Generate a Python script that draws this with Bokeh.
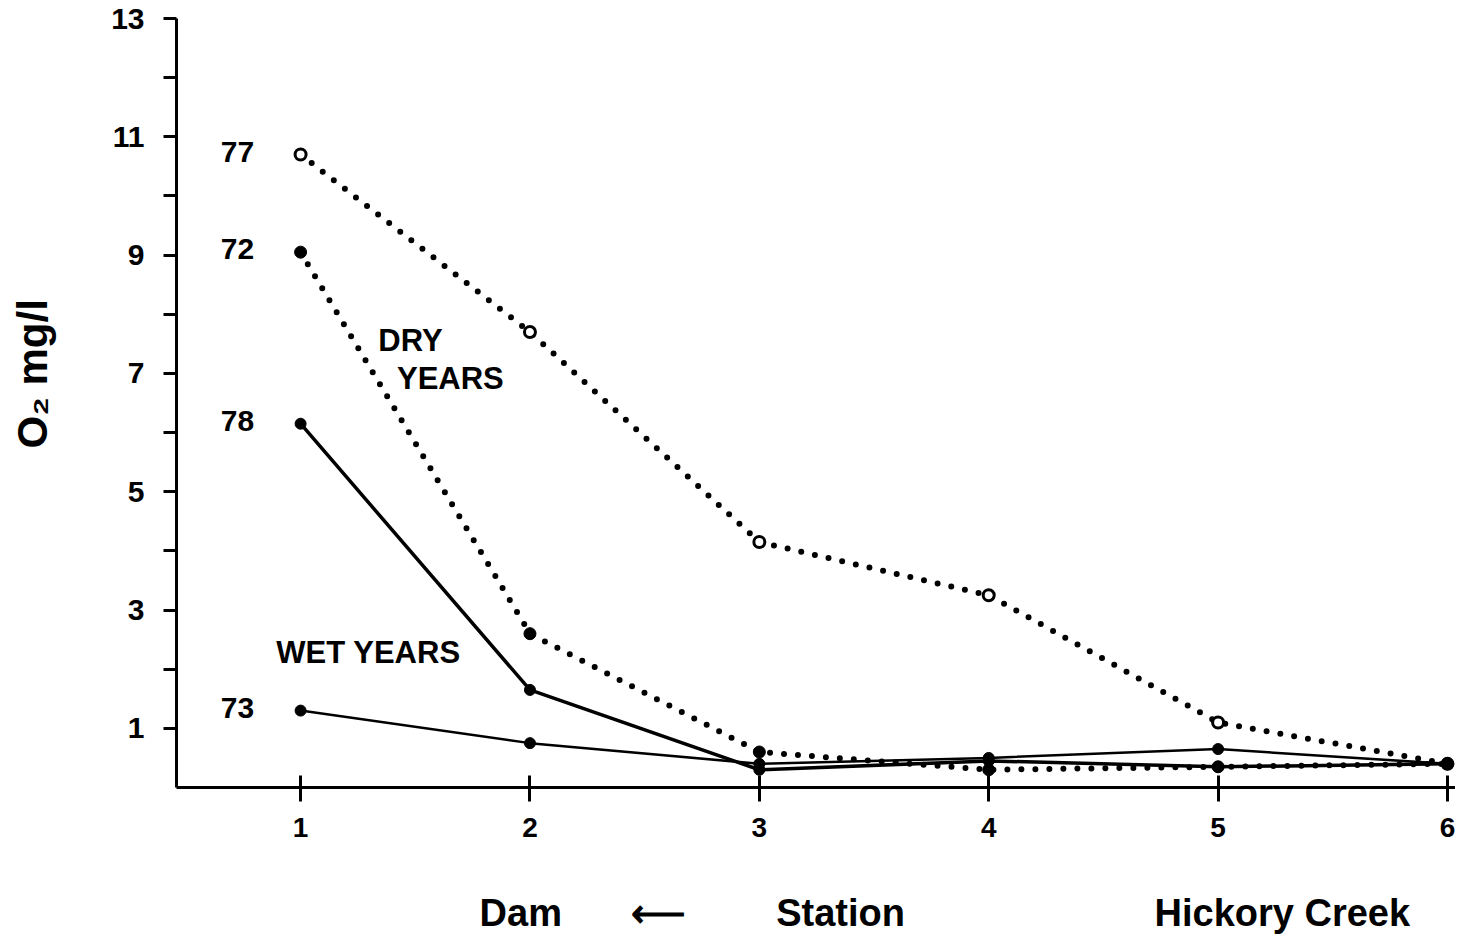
from bokeh.plotting import figure
from bokeh.models import Range1d, FixedTicker, LinearAxis
from bokeh.core.properties import value
from bokeh.embed import file_html
from bokeh.resources import INLINE

# ---- data ----
stations = [1, 2, 3, 4, 5, 6]
o2_1977 = [10.7, 7.7, 4.15, 3.25, 1.1, 0.4]   # dry year, open circles, dotted
o2_1972 = [9.05, 2.6, 0.6, 0.3, 0.35, 0.4]     # dry year, filled, dotted
o2_1978 = [6.15, 1.65, 0.3, 0.45, 0.35, 0.4]   # wet year, solid
o2_1973 = [1.3, 0.75, 0.4, 0.5, 0.65, 0.4]     # wet year, solid
year_labels = ["77", "72", "78", "73"]
y_major_ticks = [1, 3, 5, 7, 9, 11, 13]
y_minor_ticks = [2, 4, 6, 8, 10, 12]
x_ticks = [1, 2, 3, 4, 5, 6]
caption_texts = ["Dam", "\u27f5", "Station", "Hickory Creek"]
caption_pos = [1.96, 2.556, 3.354, 5.28]

FONT = "Liberation Sans"

p = figure(width=1455, height=939, output_backend="svg", toolbar_location=None,
           x_range=Range1d(0.459, 6.035), y_range=Range1d(0, 13),
           min_border_left=176, min_border_right=0, min_border_top=18,
           min_border_bottom=152)
p.outline_line_color = None
p.xgrid.visible = False
p.ygrid.visible = False
p.background_fill_color = "white"

# y axis
p.yaxis.ticker = FixedTicker(ticks=y_major_ticks, minor_ticks=y_minor_ticks)
p.yaxis.axis_line_width = 3
p.yaxis.major_tick_line_width = 3
p.yaxis.minor_tick_line_width = 3
p.yaxis.major_tick_out = 13
p.yaxis.major_tick_in = 0
p.yaxis.minor_tick_out = 13
p.yaxis.minor_tick_in = 0
p.yaxis.major_label_text_font = FONT
p.yaxis.major_label_text_font_style = "bold"
p.yaxis.major_label_text_font_size = "30px"
p.yaxis.major_label_text_color = "black"
p.yaxis.major_label_standoff = 19
p.yaxis.axis_label = "\u00a0\u00a0\u00a0\u00a0\u00a0O\u2082 mg/l"
p.yaxis.axis_label_text_font = FONT
p.yaxis.axis_label_text_font_style = "bold"
p.yaxis.axis_label_text_font_size = "42px"
p.yaxis.axis_label_text_color = "black"
p.yaxis.axis_label_standoff = 52

# x axis
p.xaxis.ticker = FixedTicker(ticks=x_ticks, minor_ticks=[])
p.xaxis.axis_line_width = 3
p.xaxis.major_tick_line_width = 3
p.xaxis.major_tick_out = 14
p.xaxis.major_tick_in = 12
p.xaxis.major_label_text_font = FONT
p.xaxis.major_label_text_font_style = "bold"
p.xaxis.major_label_text_font_size = "28px"
p.xaxis.major_label_text_color = "black"
p.xaxis.major_label_standoff = 16

# caption row as a second (line-less) axis below
cap_axis = LinearAxis(ticker=FixedTicker(ticks=caption_pos, minor_ticks=[]),
                      major_label_overrides=dict(zip(caption_pos, caption_texts)))
cap_axis.axis_line_color = None
cap_axis.major_tick_line_color = None
cap_axis.minor_tick_line_color = None
cap_axis.major_label_text_font = FONT
cap_axis.major_label_text_font_style = "bold"
cap_axis.major_label_text_font_size = "38px"
cap_axis.major_label_text_color = "black"
cap_axis.major_label_standoff = 46
p.add_layout(cap_axis, "below")

# dry years (dotted)
p.line(stations, o2_1977, line_color="black", line_width=6, line_dash="0 14", line_cap="round")
p.line(stations, o2_1972, line_color="black", line_width=6, line_dash="0 14", line_cap="round")
# wet years (solid)
p.line(stations, o2_1978, line_color="black", line_width=3.5)
p.line(stations, o2_1973, line_color="black", line_width=2.5)

p.scatter(stations, o2_1977, size=11, marker="circle", fill_color="white",
          line_color="black", line_width=3)
p.scatter(stations, o2_1972, size=12, marker="circle", fill_color="black", line_color="black")
p.scatter(stations, o2_1978, size=11, marker="circle", fill_color="black", line_color="black")
p.scatter(stations, o2_1973, size=11, marker="circle", fill_color="black", line_color="black")

# year labels next to station 1
first_values = [o2_1977[0], o2_1972[0], o2_1978[0], o2_1973[0]]
p.text(x=[0.725] * 4, y=[v + 0.05 for v in first_values], text=year_labels,
       text_font=value(FONT), text_font_style="bold", text_font_size="30px",
       text_align="center", text_baseline="middle", text_color="black")

p.text(x=[1.479, 1.653, 1.296], y=[7.56, 6.91, 2.28], text=["DRY", "YEARS", "WET YEARS"],
       text_font=value(FONT), text_font_style="bold", text_font_size="31px",
       text_align="center", text_baseline="middle", text_color="black")

open("out.html", "w").write(file_html(p, INLINE))
